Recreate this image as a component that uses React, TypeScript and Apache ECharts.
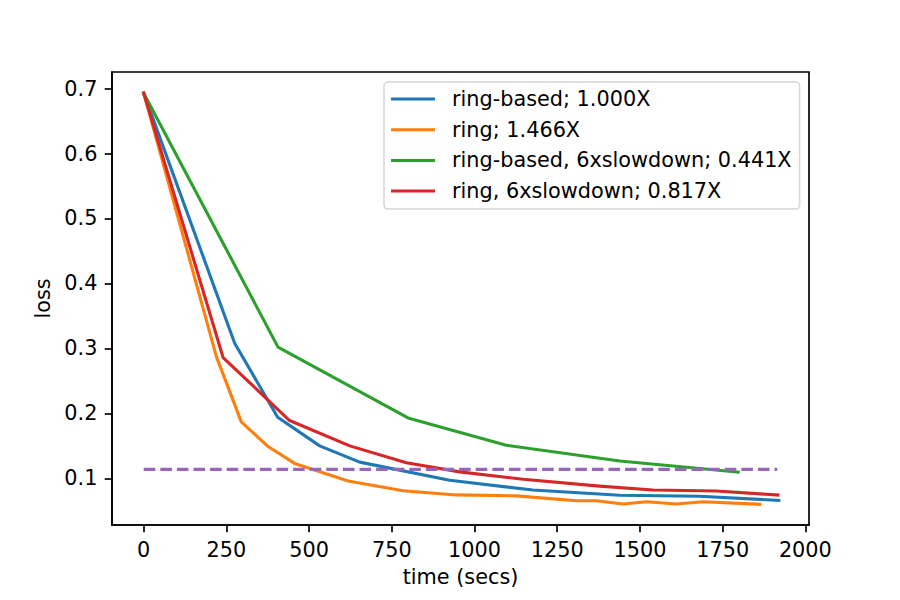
import React, { useEffect, useRef } from "react";
import * as echarts from "echarts";

// Training loss over wall-clock time for four all-reduce variants
const ringBasedTime = [0, 275, 405, 532, 653, 925, 1176, 1439, 1680, 1920];
const ringBasedLoss = [0.693, 0.308, 0.194, 0.15, 0.125, 0.097, 0.082, 0.074, 0.0725, 0.066];

const ringTime = [0, 220, 295, 376, 456, 618, 784, 945, 1127, 1308, 1368, 1449, 1520, 1610, 1691, 1862];
const ringLoss = [0.693, 0.287, 0.187, 0.149, 0.123, 0.096, 0.081, 0.0745, 0.073, 0.0655, 0.0655, 0.0605, 0.064, 0.0605, 0.064, 0.06];

const ringBasedSlowTime = [0, 406, 799, 1096, 1439, 1797];
const ringBasedSlowLoss = [0.693, 0.302, 0.193, 0.151, 0.1266, 0.1095];

const ringSlowTime = [0, 240, 441, 623, 794, 955, 1147, 1378, 1539, 1731, 1917];
const ringSlowLoss = [0.693, 0.286, 0.189, 0.15, 0.124, 0.11, 0.0985, 0.088, 0.082, 0.0805, 0.0743];

const targetTime = [0, 1915];
const targetLoss = [0.1138, 0.1138];

const seriesNames = [
  "ring-based; 1.000X",
  "ring; 1.466X",
  "ring-based, 6xslowdown; 0.441X",
  "ring, 6xslowdown; 0.817X",
];
const seriesColors = ["#1f77b4", "#ff7f0e", "#2ca02c", "#d62728"];

const xTicks = [0, 250, 500, 750, 1000, 1250, 1500, 1750, 2000];
const yTicks = [0.1, 0.2, 0.3, 0.4, 0.5, 0.6, 0.7];

const pairs = (xs: number[], ys: number[]) => xs.map((x, i) => [x, ys[i]]);

const FONT = "DejaVu Sans";
const FS = 20.8;

export default function App() {
  const ref = useRef<HTMLDivElement>(null);

  useEffect(() => {
    if (!ref.current) return;
    const chart = echarts.init(ref.current, undefined, { renderer: "svg" });

    const lines = [
      pairs(ringBasedTime, ringBasedLoss),
      pairs(ringTime, ringLoss),
      pairs(ringBasedSlowTime, ringBasedSlowLoss),
      pairs(ringSlowTime, ringSlowLoss),
    ];

    const axisCommon = {
      axisLine: { show: true, onZero: false, lineStyle: { color: "#000", width: 1.67 } },
      splitLine: { show: false },
    };

    chart.setOption({
      animation: false,
      backgroundColor: "#fff",
      textStyle: { fontFamily: FONT },
      grid: {
        left: 112,
        top: 72,
        right: 91,
        bottom: 75,
        show: true,
        borderColor: "#000",
        borderWidth: 1.67,
        containLabel: false,
      },
      legend: {
        orient: "vertical",
        left: 384,
        top: 82,
        data: seriesNames,
        icon: "rect",
        itemWidth: 44,
        itemHeight: 3,
        itemGap: 6.7,
        padding: [5, 8, 6, 7],
        backgroundColor: "rgba(255,255,255,0.8)",
        borderColor: "#d6d6d6",
        borderWidth: 1.5,
        borderRadius: 4,
        textStyle: {
          fontFamily: FONT,
          fontSize: FS,
          color: "#000",
          lineHeight: 24,
          padding: [0, 0, 0, 12],
        },
      },
      xAxis: {
        type: "value",
        min: -95.8,
        max: 2011,
        name: "time (secs)",
        nameLocation: "middle",
        nameGap: 41,
        nameTextStyle: { fontFamily: FONT, fontSize: FS, color: "#000" },
        ...axisCommon,
        axisTick: {
          show: true,
          inside: false,
          length: 7.3,
          customValues: xTicks,
          lineStyle: { color: "#000", width: 1.67 },
        },
        axisLabel: {
          customValues: xTicks,
          margin: 14.6,
          fontFamily: FONT,
          fontSize: FS,
          color: "#000",
          formatter: (v: number) => String(Math.round(v)),
        },
      },
      yAxis: {
        type: "value",
        min: 0.0282,
        max: 0.7255,
        name: "loss",
        nameLocation: "middle",
        nameGap: 57,
        nameTextStyle: { fontFamily: FONT, fontSize: FS, color: "#000" },
        ...axisCommon,
        axisTick: {
          show: true,
          inside: false,
          length: 7.3,
          customValues: yTicks,
          lineStyle: { color: "#000", width: 1.67 },
        },
        axisLabel: {
          customValues: yTicks,
          margin: 14.6,
          fontFamily: FONT,
          fontSize: FS,
          color: "#000",
          formatter: (v: number) => v.toFixed(1),
        },
      },
      series: [
        ...lines.map((data, i) => ({
          name: seriesNames[i],
          type: "line",
          data,
          showSymbol: false,
          symbol: "none",
          color: seriesColors[i],
          lineStyle: { color: seriesColors[i], width: 3.1, join: "round", cap: "square" },
        })),
        {
          name: "target loss",
          type: "line",
          data: pairs(targetTime, targetLoss),
          showSymbol: false,
          symbol: "none",
          color: "#9467bd",
          lineStyle: { color: "#9467bd", width: 3.1, type: [11.6, 5], cap: "butt" },
        },
      ],
    });

    return () => chart.dispose();
  }, []);

  return (
    <div
      ref={ref}
      style={{ position: "absolute", left: 0, top: 0, width: 900, height: 600 }}
    />
  );
}
